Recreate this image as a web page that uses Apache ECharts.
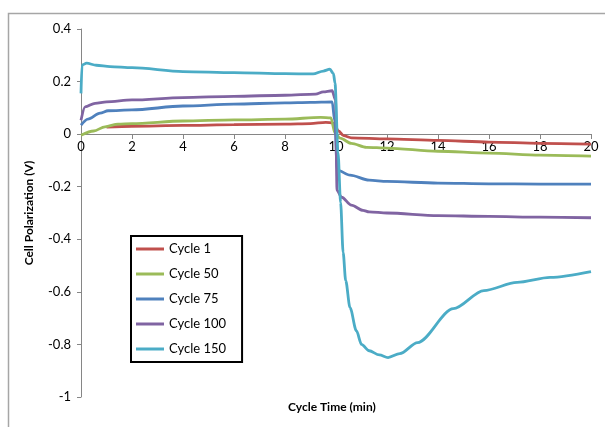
<!DOCTYPE html>
<html>
<head>
<meta charset="utf-8">
<script src="https://cdn.jsdelivr.net/npm/echarts@6/dist/echarts.min.js"></script>
<style>
    html, body {margin: 0; padding: 0; background: #fff;}
    #chart {width: 605px; height: 427px;}
</style>
</head>
<body>
<div id="chart"></div>
<script>
// 各循环的极化曲线 (时间 min, 电压 V)
var cycle1Time = [1, 2, 4, 6, 8, 9, 9.6, 9.9, 10.1, 10.3, 10.6, 12, 14, 16, 18, 20];
var cycle1Volt = [0.027, 0.03, 0.033, 0.036, 0.038, 0.04, 0.045, 0.042, 0.012, -0.006, -0.014, -0.018, -0.024, -0.03, -0.035, -0.038];

var cycle50Time = [0, 0.5, 0.94, 1.45, 2, 4, 6, 8, 9.4, 9.8, 9.96, 10.16, 10.6, 11.2, 12, 14, 16, 18, 20];
var cycle50Volt = [-0.004, 0.012, 0.028, 0.038, 0.04, 0.05, 0.054, 0.057, 0.064, 0.062, 0.004, -0.015, -0.035, -0.05, -0.053, -0.065, -0.072, -0.08, -0.084];

var cycle75Time = [0, 0.27, 0.75, 1.06, 2, 4, 6, 8, 9, 9.85, 9.95, 10.05, 10.55, 11.3, 12, 14, 16, 18, 20];
var cycle75Volt = [0.034, 0.057, 0.08, 0.089, 0.092, 0.107, 0.114, 0.119, 0.121, 0.123, 0.05, -0.137, -0.156, -0.175, -0.18, -0.186, -0.189, -0.19, -0.19];

var cycle100Time = [0, 0.16, 0.55, 1, 2, 4, 6, 8, 9.2, 9.5, 9.85, 9.98, 10.04, 10.22, 10.6, 11.06, 11.3, 12, 14, 16, 18, 20];
var cycle100Volt = [0.053, 0.104, 0.117, 0.123, 0.13, 0.139, 0.144, 0.148, 0.152, 0.161, 0.165, 0.13, -0.214, -0.24, -0.27, -0.29, -0.296, -0.3, -0.31, -0.313, -0.316, -0.318];

var cycle150Time = [0, 0.04, 0.22, 0.6, 1.14, 2, 4, 6, 8, 9.1, 9.5, 9.76, 9.9, 9.96, 10.08, 10.18, 10.28, 10.38, 10.55, 10.8, 11.0, 11.3, 11.7, 12.04, 12.5, 13.2, 14.6, 15.8, 17.1, 18.4, 20];
var cycle150Volt = [0.155, 0.263, 0.27, 0.262, 0.257, 0.253, 0.238, 0.234, 0.23, 0.229, 0.24, 0.247, 0.23, 0.195, -0.07, -0.26, -0.45, -0.557, -0.66, -0.748, -0.8, -0.824, -0.84, -0.85, -0.835, -0.793, -0.664, -0.595, -0.564, -0.545, -0.523];

var seriesNames = ['Cycle 1', 'Cycle 50', 'Cycle 75', 'Cycle 100', 'Cycle 150'];
var seriesColors = ['#C0504D', '#9BBB59', '#4F81BD', '#8064A2', '#4BACC6'];
var timeList = [cycle1Time, cycle50Time, cycle75Time, cycle100Time, cycle150Time];
var voltList = [cycle1Volt, cycle50Volt, cycle75Volt, cycle100Volt, cycle150Volt];

var font = 'Lato, "Open Sans", sans-serif';

function pairs(t, v){
    var arr = [];
    for(var i = 0; i < t.length; i++) {
        arr.push([t[i], v[i]]);
    }
    return arr;
}

var series = [];
for(var i = 0; i < seriesNames.length; i++) {
    series.push({
        name: seriesNames[i],
        type: 'line',
        showSymbol: false,
        smooth: 0.3,
        smoothMonotone: 'x',
        lineStyle: {width: 2.8, color: seriesColors[i]},
        itemStyle: {color: seriesColors[i]},
        data: pairs(timeList[i], voltList[i])
    });
}

var option = {
    animation: false,
    backgroundColor: '#fff',
    textStyle: {fontFamily: font},
    grid: {
        left: 81,
        right: 14,
        top: 29,
        bottom: 30
    },
    legend: {
        orient: 'vertical',
        left: 131,
        top: 236,
        data: seriesNames,
        icon: 'rect',
        itemWidth: 28,
        itemHeight: 3,
        itemGap: 11,
        padding: [6, 16, 6, 5],
        borderColor: '#000',
        borderWidth: 2,
        textStyle: {fontFamily: font, fontSize: 13, color: '#000', lineHeight: 14}
    },
    xAxis: {
        type: 'value',
        min: 0,
        max: 20,
        interval: 2,
        position: 'bottom',
        offset: -263,   // 横轴放在 y=0 处
        axisLine: {onZero: false, lineStyle: {color: '#868686', width: 1}},
        axisTick: {show: true, length: 5, lineStyle: {color: '#868686'}},
        axisLabel: {color: '#000', fontSize: 13, fontFamily: font, margin: 6},
        splitLine: {show: false}
    },
    yAxis: {
        type: 'value',
        min: -1,
        max: 0.4,
        interval: 0.2,
        name: 'Cell Polarization (V)',
        nameLocation: 'middle',
        nameGap: 46,
        nameTextStyle: {color: '#000', fontWeight: 'bold', fontSize: 12, fontFamily: font},
        axisLine: {show: true, lineStyle: {color: '#868686', width: 1}},
        axisTick: {show: true, length: 4, lineStyle: {color: '#868686'}},
        axisLabel: {color: '#000', fontSize: 13, fontFamily: font, margin: 10},
        splitLine: {show: false}
    },
    graphic: [
        {
            type: 'polyline',
            shape: {points: [[8.5, 427], [8.5, 13.5], [605, 13.5]]},
            style: {stroke: '#a6a6a6', lineWidth: 1.5, fill: null},
            silent: true
        },
        {
            type: 'text',
            left: 288,
            top: 401,
            style: {text: 'Cycle Time (min)', font: 'bold 12px ' + font, fill: '#000'}
        }
    ],
    series: series
};

echarts.init(document.getElementById('chart')).setOption(option);
</script>
</body>
</html>
